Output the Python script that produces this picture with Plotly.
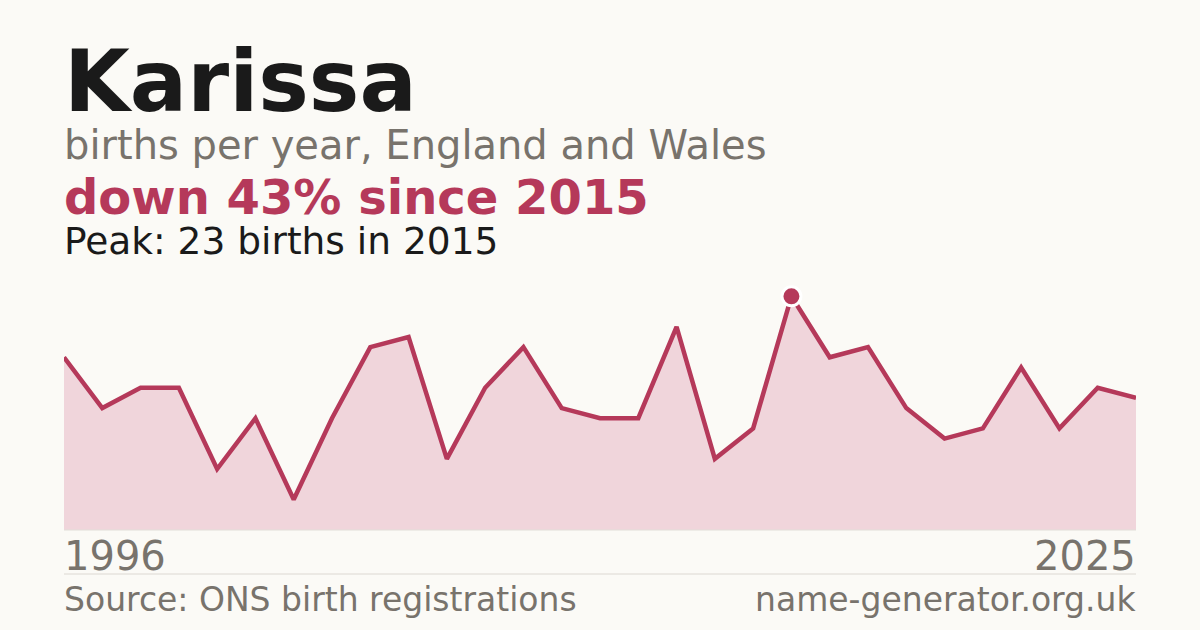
import plotly.graph_objects as go

# births per year for the name, 1996 onwards
years = list(range(1996, 2025))
births = [17, 12, 14, 14, 6, 11, 3, 11, 18, 19, 7, 14, 18, 12, 11, 11, 20, 7, 10,
          23, 17, 18, 12, 9, 10, 16, 10, 14, 13]
axis_labels = ["1996", "2025"]

name = "Karissa"
subtitle = "births per year, England and Wales"
change_text = "down 43% since 2015"
peak_text = "Peak: 23 births in 2015"
source_text = "Source: ONS birth registrations"
site_text = "name-generator.org.uk"

RED = "#b5395a"
GREY = "#78736c"
DARK = "#1a1a1a"
BG = "#fbfaf6"

peak_i = births.index(max(births))

# plot area sits between y=276 and y=530 px
T, B = 276, 100
H = 630 - T - B


def py(pix):
    return (530 - pix) / H


fig = go.Figure()
fig.add_trace(go.Scatter(
    x=years, y=births, mode="lines", fill="tozeroy",
    fillcolor="#f0d5db", line=dict(color=RED, width=4.5),
    hoverinfo="skip",
))
fig.add_trace(go.Scatter(
    x=[years[peak_i]], y=[births[peak_i]], mode="markers",
    marker=dict(color=RED, size=19, line=dict(color="white", width=3)),
    hoverinfo="skip",
))

font = "DejaVu Sans"
texts = [
    (f"<b>{name}</b>", 85, DARK, 81, 0, "left"),
    (subtitle, 40, GREY, 145, 0, "left"),
    (f"<b>{change_text}</b>", 48, RED, 197, 0, "left"),
    (peak_text, 37.5, DARK, 241, 0, "left"),
    (axis_labels[0], 40, GREY, 556, 0, "left"),
    (axis_labels[1], 40, GREY, 556, 1, "right"),
    (source_text, 33, GREY, 599, 0, "left"),
    (site_text, 33, GREY, 599, 1, "right"),
]
for txt, size, color, ypix, xp, anchor in texts:
    fig.add_annotation(
        text=txt, x=xp, y=py(ypix), xref="paper", yref="paper",
        xanchor=anchor, yanchor="middle", showarrow=False,
        xshift=-2 if anchor == "left" else 2,
        font=dict(family=font, size=size, color=color),
    )

# baseline and footer separator
fig.add_shape(type="line", xref="paper", yref="paper", x0=0, x1=1, y0=0, y1=0,
              line=dict(color="#e2ded8", width=1))
fig.add_shape(type="line", xref="paper", yref="paper", x0=0, x1=1,
              y0=py(574), y1=py(574), line=dict(color="#dcd8d2", width=1))

fig.update_layout(
    width=1200, height=630,
    margin=dict(l=64, r=64, t=T, b=B),
    paper_bgcolor=BG, plot_bgcolor=BG,
    showlegend=False,
    xaxis=dict(range=[years[0], years[-1]], visible=False, fixedrange=True),
    yaxis=dict(range=[0, 25], visible=False, fixedrange=True),
)

fig.write_html(
    "out.html",
    config={"displayModeBar": False},
    post_script="document.body.style.margin='0';document.body.style.background='%s';" % BG,
)
